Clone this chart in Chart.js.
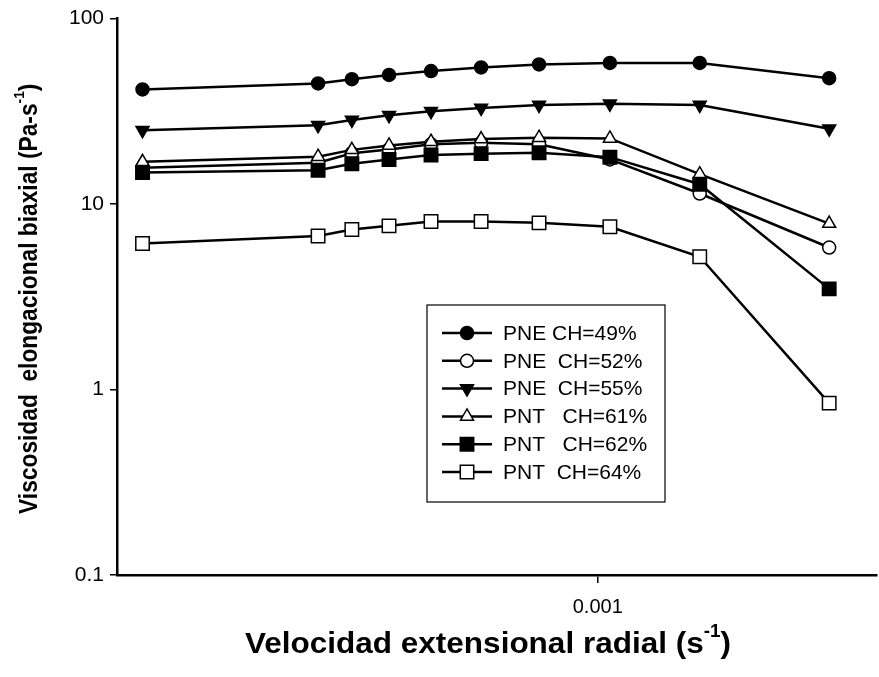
<!DOCTYPE html>
<html>
<head>
<meta charset="utf-8">
<script src="https://cdn.jsdelivr.net/npm/chart.js@4.4.1/dist/chart.umd.min.js"></script>
<style>
  html, body { margin: 0; padding: 0; background: #fff; }
  #wrap { width: 879px; height: 677px; }
</style>
</head>
<body>
<div id="wrap"><canvas id="viscChart" width="879" height="677"></canvas></div>
<script>
// extension rate (s-1) and biaxial elongational viscosity (Pa-s)
const rates = [1.13e-4, 2.62e-4, 3.08e-4, 3.68e-4, 4.5e-4, 5.72e-4, 7.55e-4, 1.06e-3, 1.63e-3, 3.03e-3];
const pne49 = [41.5, 44.7, 47.1, 49.7, 52.1, 54.5, 56.6, 57.7, 57.7, 47.7];
const pne52 = [15.7, 16.7, 18.8, 19.7, 21.0, 21.4, 21.0, 17.4, 11.4, 5.83];
const pne55 = [25.0, 26.6, 28.4, 30.1, 31.7, 33.0, 34.2, 34.7, 34.2, 25.5];
const pnt61 = [16.9, 18.0, 19.6, 20.7, 21.7, 22.4, 22.8, 22.6, 14.5, 7.85];
const pnt62 = [14.8, 15.2, 16.5, 17.4, 18.4, 18.7, 18.9, 17.9, 12.8, 3.49];
const pnt64 = [6.13, 6.72, 7.29, 7.63, 8.05, 8.05, 7.92, 7.54, 5.20, 0.845];
const seriesLabels = ['PNE CH=49%', 'PNE  CH=52%', 'PNE  CH=55%', 'PNT   CH=61%', 'PNT   CH=62%', 'PNT  CH=64%'];
const yTicks = [0.1, 1, 10, 100];
const xTicks = [0.001];

const FONT = "'Liberation Sans', Arial, sans-serif";

const markers = [
    { style: 'circle', rot: 0, r: 6.5, fill: '#000' },
    { style: 'circle', rot: 0, r: 6.5, fill: '#fff' },
    { style: 'triangle', rot: 180, r: 7.5, fill: '#000' },
    { style: 'triangle', rot: 0, r: 7.5, fill: '#fff' },
    { style: 'rect', rot: 0, r: 9.5, fill: '#000' },
    { style: 'rect', rot: 0, r: 9.5, fill: '#fff' }
];

const seriesValues = [pne49, pne52, pne55, pnt61, pnt62, pnt64];

const datasets = seriesValues.map((vals, i) => ({
    label: seriesLabels[i],
    data: rates.map((x, j) => ({ x: x, y: vals[j] })),
    borderColor: '#000',
    borderWidth: 2.5,
    pointStyle: markers[i].style,
    pointRotation: markers[i].rot,
    pointRadius: markers[i].r,
    pointBackgroundColor: markers[i].fill,
    pointBorderColor: '#000',
    pointBorderWidth: 1.5,
    tension: 0,
    fill: false,
    order: 6 - i   // later series drawn on top
}));

// text with a raised "-1" superscript, centred on (cx, cy)
function drawSupTitle(ctx, before, sup, after, cx, cy, rotate, size, sx) {
    ctx.save();
    ctx.translate(cx, cy);
    if (rotate) ctx.rotate(-Math.PI / 2);
    ctx.scale(sx, 1);
    const big = `bold ${size}px ${FONT}`;
    const small = `bold ${Math.round(size * 0.6)}px ${FONT}`;
    ctx.font = big;
    const w1 = ctx.measureText(before).width;
    const w3 = ctx.measureText(after).width;
    ctx.font = small;
    const w2 = ctx.measureText(sup).width;
    let x = -(w1 + w2 + w3) / 2;
    ctx.fillStyle = '#000';
    ctx.textBaseline = 'middle';
    ctx.textAlign = 'left';
    ctx.font = big;
    ctx.fillText(before, x, 0);
    x += w1;
    ctx.font = small;
    ctx.fillText(sup, x, -size * 0.42);
    x += w2;
    ctx.font = big;
    ctx.fillText(after, x, 0);
    ctx.restore();
}

const titlesPlugin = {
    id: 'axisTitles',
    afterDraw(chart) {
        const ctx = chart.ctx;
        const area = chart.chartArea;
        drawSupTitle(ctx, 'Velocidad extensional radial (s', '-1', ')', 488, 645, false, 30, 1.05);
        drawSupTitle(ctx, 'Viscosidad  elongacional biaxial (Pa-s', '-1', ')', 30, (area.top + area.bottom) / 2 + 2, true, 25, 0.91);
    }
};

const boxLegend = {
    id: 'boxLegend',
    afterDatasetsDraw(chart) {
        const ctx = chart.ctx;
        const left = 427, top = 305, right = 665, bottom = 502;
        ctx.save();
        ctx.fillStyle = '#fff';
        ctx.fillRect(left, top, right - left, bottom - top);
        ctx.strokeStyle = '#000';
        ctx.lineWidth = 1.2;
        ctx.strokeRect(left, top, right - left, bottom - top);
        ctx.font = `21px ${FONT}`;
        ctx.textBaseline = 'middle';
        chart.data.datasets.forEach((ds, i) => {
            const y = 333 + i * 27.8;
            ctx.strokeStyle = '#000';
            ctx.lineWidth = 2.5;
            ctx.beginPath();
            ctx.moveTo(442, y);
            ctx.lineTo(492, y);
            ctx.stroke();
            ctx.fillStyle = markers[i].fill;
            ctx.lineWidth = 1.5;
            Chart.helpers.drawPoint(ctx, {
                pointStyle: markers[i].style,
                rotation: markers[i].rot,
                radius: markers[i].r,
                borderWidth: 1.5
            }, 467, y);
            ctx.fillStyle = '#000';
            ctx.fillText(ds.label, 503, y + 1);
        });
        ctx.restore();
    }
};

new Chart(document.getElementById('viscChart'), {
    type: 'line',
    data: { datasets: datasets },
    plugins: [titlesPlugin, boxLegend],
    options: {
        responsive: false,
        animation: false,
        layout: { autoPadding: false, padding: { top: 17, right: 2, left: 0, bottom: 0 } },
        plugins: {
            legend: { display: false },
            tooltip: { enabled: false }
        },
        scales: {
            x: {
                type: 'logarithmic',
                min: 1e-4,
                max: 3.81e-3,
                afterBuildTicks: s => { s.ticks = xTicks.map(v => ({ value: v })); },
                afterFit: s => { s.height = 102; },
                border: { display: true, color: '#000', width: 2.5 },
                grid: { drawOnChartArea: false, drawTicks: true, tickLength: 8, color: '#000', lineWidth: 1.5 },
                ticks: {
                    color: '#000',
                    padding: 12,
                    maxRotation: 0,
                    font: { family: FONT, size: 20 },
                    callback: v => String(v)
                }
            },
            y: {
                type: 'logarithmic',
                min: 0.1,
                max: 100,
                afterBuildTicks: s => { s.ticks = yTicks.map(v => ({ value: v })); },
                afterFit: s => { s.width = 117; },
                border: { display: true, color: '#000', width: 2.5 },
                grid: { drawOnChartArea: false, drawTicks: true, tickLength: 7, color: '#000', lineWidth: 1.5 },
                ticks: {
                    color: '#000',
                    padding: 6,
                    font: { family: FONT, size: 21 },
                    callback: v => String(v)
                }
            }
        }
    }
});
</script>
</body>
</html>
